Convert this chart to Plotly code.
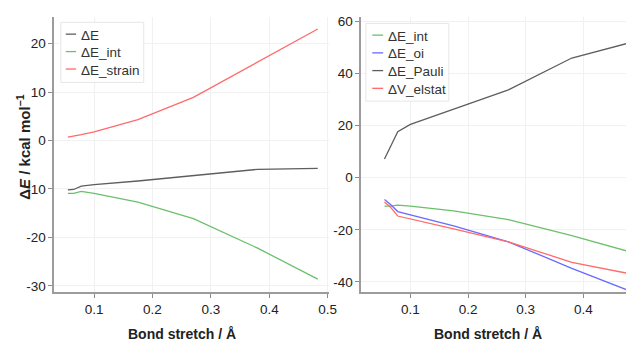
import plotly.graph_objects as go

# ---------------- data ----------------
bond_stretch = [0.055, 0.065, 0.078, 0.1, 0.175, 0.27, 0.38, 0.483]

dE = [-10.2, -10.1, -9.4, -9.1, -8.35, -7.25, -5.95, -5.75]
dE_int = [-10.9, -10.9, -10.5, -10.9, -12.7, -16.1, -22.2, -28.6]
dE_strain = [0.7, 0.9, 1.2, 1.8, 4.3, 8.9, 16.2, 23.0]

dE_oi = [-8.4, -10.2, -13.0, -14.3, -18.5, -24.6, -34.8, -43.7]
dE_pauli = [7.2, 11.8, 17.7, 20.5, 26.5, 33.8, 46.0, 52.0]
dV_elstat = [-9.3, -11.2, -14.7, -15.8, -19.6, -24.6, -32.5, -37.0]

left_names = ["ΔE", "ΔE_int", "ΔE_strain"]
right_names = ["ΔE_int", "ΔE_oi", "ΔE_Pauli", "ΔV_elstat"]

x_tickvals = [0.1, 0.2, 0.3, 0.4, 0.5]
x_ticktext = ["0.1", "0.2", "0.3", "0.4", "0.5"]
yl_tickvals = [-30, -20, -10, 0, 10, 20]
yl_ticktext = ["-30", "-20", "-10", "0", "10", "20"]
yr_tickvals = [-40, -20, 0, 20, 40, 60]
yr_ticktext = ["-40", "-20", "0", "20", "40", "60"]

# ---------------- styling ----------------
# the page body has an 8px margin, so the figure is sized/shifted to compensate
OFF = 8
W, H = 634 - OFF, 343 - OFF
GRAY = "#5e5e5e"
GREEN = "#6cc06c"
RED = "#ff6a6a"
BLUE = "#6a6aff"
FONT = "Liberation Sans, Arial, Helvetica, sans-serif"


def px(x):
    return (x - OFF) / W


def py(y):
    return 1 - (y - OFF) / H


fig = go.Figure()

left_series = [dE, dE_int, dE_strain]
left_colors = [GRAY, GREEN, RED]
for name, ys, col in zip(left_names, left_series, left_colors):
    fig.add_trace(go.Scatter(x=bond_stretch, y=ys, name=name, mode="lines",
                             line=dict(color=col, width=1.3),
                             xaxis="x", yaxis="y", showlegend=False))

right_series = [dE_int, dE_oi, dE_pauli, dV_elstat]
right_colors = [GREEN, BLUE, GRAY, RED]
for name, ys, col in zip(right_names, right_series, right_colors):
    fig.add_trace(go.Scatter(x=bond_stretch, y=ys, name=name, mode="lines",
                             line=dict(color=col, width=1.3),
                             xaxis="x2", yaxis="y2", showlegend=False))

axis_common = dict(
    showline=True, linecolor="#9c9c9c", linewidth=2,
    ticks="outside", ticklen=4, tickwidth=1, tickcolor="#8c8c8c",
    showgrid=True, gridcolor="#f1f1f1", gridwidth=1,
    zeroline=False, tickfont=dict(family=FONT, size=13.5, color="#222222"),
)

ydom = [py(293), py(14)]

fig.update_layout(
    width=W, height=H,
    margin=dict(l=0, r=0, t=0, b=0),
    paper_bgcolor="white", plot_bgcolor="white",
    showlegend=False,
    font=dict(family=FONT, color="#222222"),
    xaxis=dict(domain=[px(55), px(333)], range=[0.032, 0.502], anchor="y",
               tickvals=x_tickvals, ticktext=x_ticktext, **axis_common),
    yaxis=dict(domain=ydom, range=[-31.2, 25.5], anchor="x",
               tickvals=yl_tickvals, ticktext=yl_ticktext, **axis_common),
    xaxis2=dict(domain=[px(366), 1.0], range=[0.015, 0.474], anchor="y2",
                tickvals=x_tickvals, ticktext=x_ticktext, **axis_common),
    yaxis2=dict(domain=ydom, range=[-43.8, 61.8], anchor="x2",
                tickvals=yr_tickvals, ticktext=yr_ticktext, **axis_common),
)

shapes = []
annotations = []

# axis titles
for cx in (184.5, 494):
    annotations.append(dict(text="<b>Bond stretch / Å</b>", x=px(cx), y=py(336),
                            xref="paper", yref="paper", showarrow=False,
                            xanchor="center", yanchor="middle", borderpad=0,
                            font=dict(family=FONT, size=14, color="#222222")))
annotations.append(dict(text="<b>Δ<i>E</i> / kcal mol<sup>−1</sup></b>",
                        x=px(24), y=py(146), xref="paper", yref="paper",
                        showarrow=False, textangle=-90, borderpad=0,
                        xanchor="center", yanchor="middle",
                        font=dict(family=FONT, size=15, color="#222222")))


def build_legend(names, colors, box, line_x, text_x, y0, dy):
    shapes.append(dict(type="rect", xref="paper", yref="paper",
                       x0=px(box[0]), x1=px(box[1]), y0=py(box[3]), y1=py(box[2]),
                       line=dict(color="#e6e6e6", width=1), fillcolor="white",
                       layer="above"))
    for i, (n, c) in enumerate(zip(names, colors)):
        yc = y0 + dy * i
        shapes.append(dict(type="line", xref="paper", yref="paper",
                           x0=px(line_x[0]), x1=px(line_x[1]),
                           y0=py(yc - 1), y1=py(yc - 1),
                           line=dict(color=c, width=1.3), layer="above"))
        annotations.append(dict(text=n, x=px(text_x), y=py(yc),
                                xref="paper", yref="paper", showarrow=False,
                                xanchor="left", yanchor="middle",
                                font=dict(family=FONT, size=13.5, color="#333333")))


build_legend(left_names, left_colors, (61.5, 145.5, 19.5, 80.5),
             (66.5, 77), 80, 32.5, 17.7)
build_legend(right_names, right_colors, (370.5, 454.5, 20.5, 99.5),
             (377, 388), 390.5, 33.5, 18)

fig.update_layout(shapes=shapes, annotations=annotations)

fig.write_html("out.html")
